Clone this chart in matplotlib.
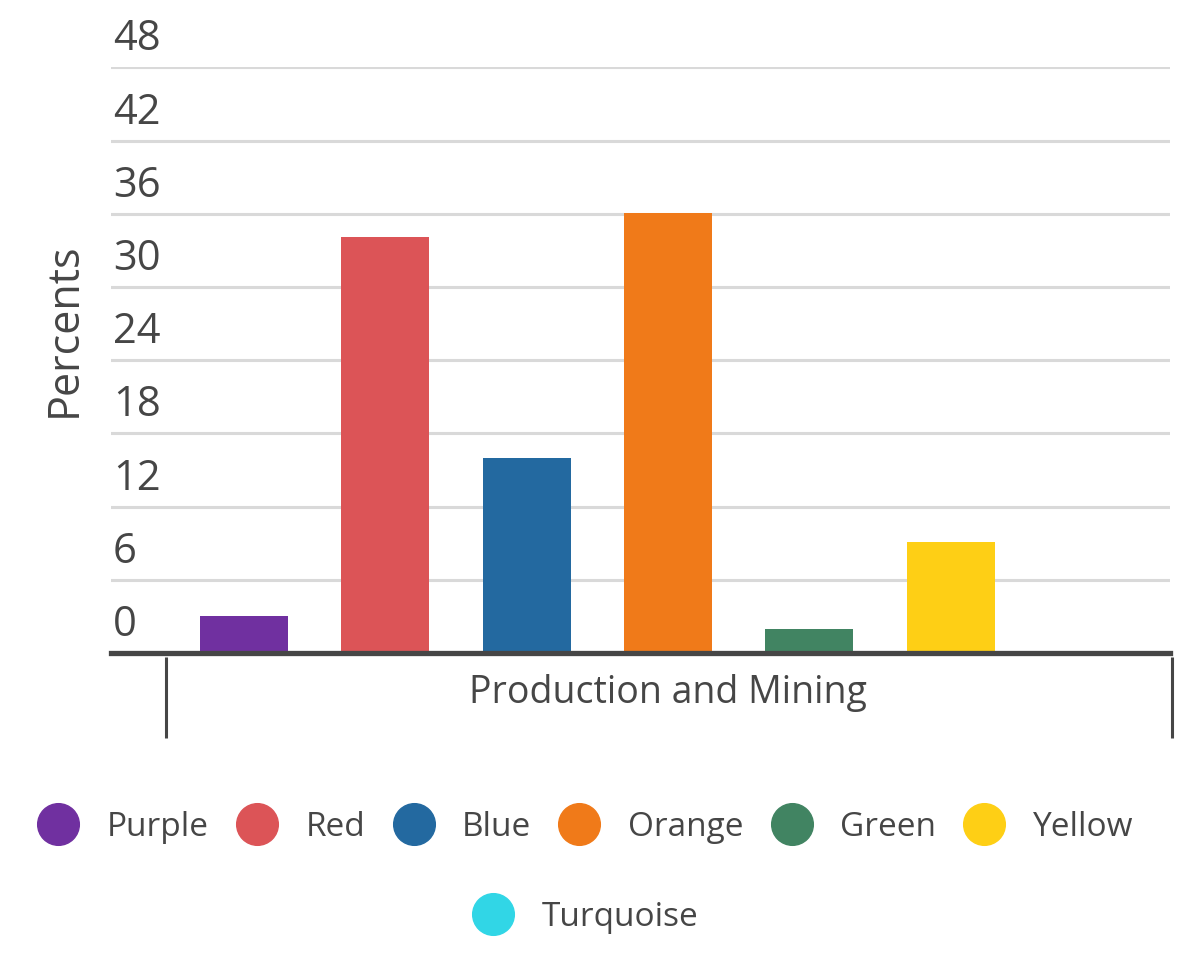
import numpy as np
import matplotlib.pyplot as plt
import matplotlib.transforms as mtransforms
from matplotlib.lines import Line2D

plt.rcParams['font.family'] = ['Open Sans', 'DejaVu Sans']

# Dados
series = ['Purple', 'Red', 'Blue', 'Orange', 'Green', 'Yellow', 'Turquoise']
valores = [3.0, 34.1, 16.0, 36.1, 2.0, 9.1, 0.1]
cores = ['#7030a0', '#dc5457', '#2369a0', '#f07a19', '#418462', '#fecf15', '#31d6e6']
categoria = 'Production and Mining'
yticks = [0, 6, 12, 18, 24, 30, 36, 42, 48]

texto = '#464646'

fig = plt.figure(figsize=(11.81, 9.57), dpi=100)
ax = fig.add_axes([0.094, 0.3177, 0.8967, 0.6119])

x = np.arange(len(valores))
ax.bar(x, valores, width=0.623, color=cores, zorder=2)

ax.set_xlim(-0.941, 6.553)
ax.set_ylim(0, 48)
ax.set_yticks(yticks)
ax.yaxis.grid(True, color='#d9d9d9', linewidth=2.2, zorder=0)
ax.set_axisbelow(True)
ax.tick_params(left=False, labelleft=False, bottom=False, labelbottom=False)

for lado in ['top', 'right', 'left']:
    ax.spines[lado].set_visible(False)
ax.spines['bottom'].set_color(texto)
ax.spines['bottom'].set_linewidth(3.8)
ax.spines['bottom'].set_zorder(3)

# rótulos do eixo y acima das linhas de grade
trans_y = mtransforms.blended_transform_factory(ax.transAxes, ax.transData)
trans_rot = mtransforms.offset_copy(trans_y, fig=fig, x=2, y=17, units='dots')
for t in yticks:
    ax.text(0, t, str(t), transform=trans_rot, ha='left', va='baseline',
            fontsize=30, color=texto)

fig.text(64 / 1181, 1 - 330 / 957, 'Percents', rotation=90, ha='center',
         va='center', fontsize=31, color=texto)

# separadores da categoria
trans_x = mtransforms.blended_transform_factory(ax.transData, ax.transAxes)
for xs in [-0.552, 6.564]:
    ax.plot([xs, xs], [-0.007, -0.146], transform=trans_x, color=texto,
            linewidth=2.2, clip_on=False, solid_capstyle='butt')
ax.text(3, -0.068, categoria, transform=trans_x, ha='center', va='center',
        fontsize=27, color=texto)

# legenda
def marcador(cor):
    return Line2D([], [], marker='o', linestyle='none', markersize=30,
                  markerfacecolor=cor, markeredgecolor=cor)

handles = [marcador(c) for c in cores]
kw = dict(frameon=False, fontsize=24, labelcolor=texto, handlelength=1.3,
          handletextpad=0.8, columnspacing=0.8, borderpad=0, borderaxespad=0)
fig.legend(handles[:6], series[:6], loc='center', ncol=6,
           bbox_to_anchor=(585 / 1181, 1 - 827 / 957), **kw)
fig.legend(handles[6:], series[6:], loc='center', ncol=1,
           bbox_to_anchor=(585 / 1181, 1 - 917 / 957), **kw)

fig.savefig('out.png', dpi=100)
